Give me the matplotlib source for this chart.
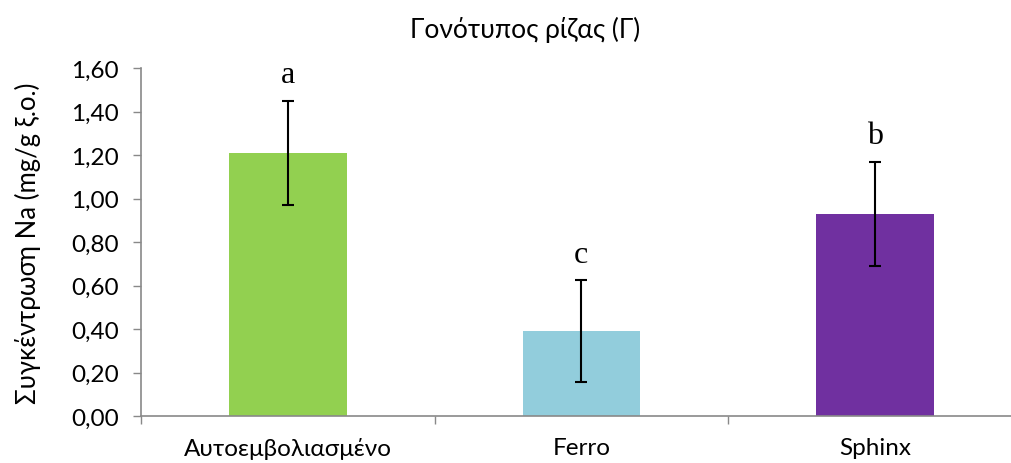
import matplotlib
matplotlib.use('Agg')
import matplotlib.pyplot as plt
from matplotlib.ticker import FuncFormatter

genotypes = ['Αυτοεμβολιασμένο', 'Ferro', 'Sphinx']
na_values = [1.21, 0.39, 0.93]
na_errors = [0.24, 0.235, 0.24]
letters = ['a', 'c', 'b']
colors = ['#92D050', '#92CDDC', '#7030A0']

plt.rcParams['font.family'] = ['Lato', 'DejaVu Sans']

fig = plt.figure(figsize=(10.11, 4.64), dpi=100)
ax = fig.add_axes([0.1395, 0.101, 0.871, 0.750])

x = list(range(len(genotypes)))
ax.bar(x, na_values, width=0.4, color=colors, zorder=2)
ax.errorbar(x, na_values, yerr=na_errors, fmt='none', ecolor='black',
            elinewidth=1.5, capsize=4.5, capthick=1.5, zorder=3)

# significance letters above the error bars
for xi, v, e, let in zip(x, na_values, na_errors, letters):
    ax.text(xi, v + e + 0.12, let, ha='center', va='center',
            fontsize=23, family='Liberation Serif')

ax.set_xlim(-0.5, 2.5)
ax.set_ylim(0, 1.6)
ax.set_yticks([i * 0.2 for i in range(9)])
ax.yaxis.set_major_formatter(FuncFormatter(lambda v, p: f'{v:.2f}'.replace('.', ',')))
ax.set_xticks(x)
ax.set_xticklabels(genotypes)
ax.set_xticks([-0.5, 0.5, 1.5, 2.5], minor=True)
ax.tick_params(axis='x', which='major', length=0, pad=15, labelsize=17.5)
ax.tick_params(axis='x', which='minor', length=6, color='#898989', width=1)
ax.tick_params(axis='y', length=6, color='#898989', width=1, labelsize=17.5, pad=10)

for s in ['top', 'right']:
    ax.spines[s].set_visible(False)
for s in ['left', 'bottom']:
    ax.spines[s].set_color('#898989')
    ax.spines[s].set_linewidth(1.2)

ax.set_ylabel('Συγκέντρωση Na (mg/g ξ.ο.)', fontsize=18.5, labelpad=22)
fig.text(0.519, 0.935, 'Γονότυπος ρίζας (Γ)', ha='center', va='center', fontsize=19)

fig.savefig('out.png', dpi=100)
